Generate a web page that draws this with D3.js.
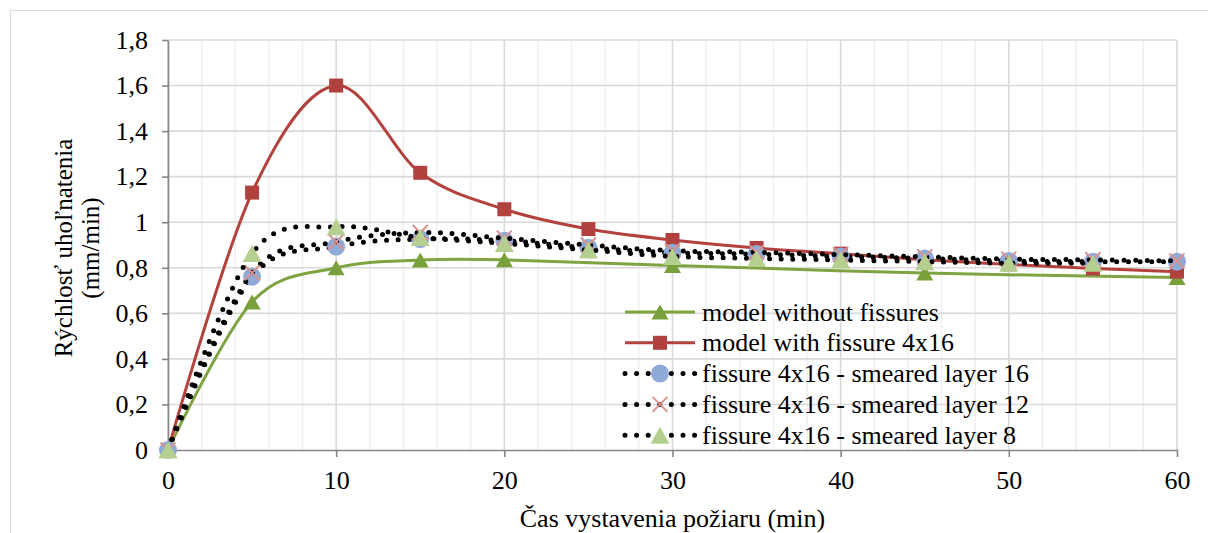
<!DOCTYPE html>
<html>
<head>
<meta charset="utf-8">
<script src="https://cdnjs.cloudflare.com/ajax/libs/d3/7.8.5/d3.min.js"></script>
<style>
  body { margin: 0; background: #fff; }
</style>
</head>
<body>
<div id="viz"></div>
<script>
'use strict';

// data
var times5 = [0, 5, 10, 15, 20, 25, 30, 35, 40, 45, 50, 55, 60];
var timesNoFissure = [0, 5, 10, 15, 20, 30, 45, 60];
var timesLayer8 = [0, 5, 10, 15, 20, 25, 30, 35, 40, 45, 50, 55];

var noFissure = [0, 0.65, 0.80, 0.834, 0.835, 0.81, 0.777, 0.757];
var fissure4x16 = [0, 1.13, 1.60, 1.217, 1.057, 0.97, 0.922, 0.887, 0.862, 0.835, 0.815, 0.797, 0.783];
var smeared16 = [0, 0.761, 0.893, 0.926, 0.919, 0.888, 0.866, 0.86, 0.849, 0.841, 0.83, 0.827, 0.827];
var smeared12 = [0, 0.778, 0.914, 0.955, 0.93, 0.90, 0.875, 0.868, 0.858, 0.848, 0.838, 0.835, 0.83];
var smeared8 = [0, 0.863, 0.98, 0.933, 0.907, 0.878, 0.85, 0.841, 0.834, 0.827, 0.82, 0.82];

var seriesNames = [
  "model without fissures",
  "model with fissure 4x16",
  "fissure 4x16 - smeared layer 16",
  "fissure 4x16 - smeared layer 12",
  "fissure 4x16 - smeared layer 8"
];

var xTicks = [0, 10, 20, 30, 40, 50, 60];
var yTicks = [0, 0.2, 0.4, 0.6, 0.8, 1, 1.2, 1.4, 1.6, 1.8];

var W = 1208, H = 533;
var fontSize = 26;
var serif = "'Liberation Serif', Tinos, 'Times New Roman', Times, 'DejaVu Serif', serif";

var svg = d3.select("#viz")
    .append("svg")
    .attr("width", W)
    .attr("height", H)
    .style("font-family", serif);

// chart border (only top and left edges are inside the frame)
svg.append("rect")
    .attr("x", 10.5).attr("y", 10.5)
    .attr("width", W + 20).attr("height", H + 20)
    .style("fill", "none")
    .style("stroke", "#d9d9d9");

var x = d3.scaleLinear().domain([0, 60]).range([168, 1177]);
var y = d3.scaleLinear().domain([0, 1.8]).range([450, 40]);

var grid = svg.append("g");
grid.selectAll("line.minor")
    .data(d3.range(0, 61, 2))
    .enter().append("line")
    .attr("x1", function(d) { return x(d); })
    .attr("x2", function(d) { return x(d); })
    .attr("y1", y(0)).attr("y2", y(1.8))
    .style("stroke", function(d) { return d % 10 === 0 ? "#d9d9d9" : "#eeeeee"; })
    .style("stroke-width", function(d) { return d % 10 === 0 ? 1.6 : 1.3; });
grid.selectAll("line.major")
    .data(yTicks.slice(1))
    .enter().append("line")
    .attr("x1", x(0)).attr("x2", x(60))
    .attr("y1", function(d) { return y(d); })
    .attr("y2", function(d) { return y(d); })
    .style("stroke", "#d9d9d9")
    .style("stroke-width", 1.6);

var locale = d3.formatLocale({decimal: ",", thousands: " ", grouping: [3], currency: ["", ""]});
var fmt = locale.format(".1~f");

var xAxis = svg.append("g")
    .attr("transform", "translate(0," + y(0) + ")")
    .call(d3.axisBottom(x).tickValues(xTicks).tickSize(7).tickPadding(14).tickFormat(fmt).tickSizeOuter(0));
var yAxis = svg.append("g")
    .attr("transform", "translate(" + x(0) + ",0)")
    .call(d3.axisLeft(y).tickValues(yTicks).tickSize(6).tickPadding(14).tickFormat(fmt).tickSizeOuter(0));

[xAxis, yAxis].forEach(function(a) {
  a.attr("font-family", serif).attr("font-size", fontSize);
  a.select(".domain").style("stroke", "#868686").style("stroke-width", 1.6);
  a.selectAll(".tick line").style("stroke", "#868686").style("stroke-width", 1.6);
  a.selectAll(".tick text").attr("fill", "#000");
});

// axis titles
svg.append("text")
    .attr("x", x(30)).attr("y", 527)
    .attr("text-anchor", "middle")
    .style("font-size", fontSize + "px")
    .text("Čas vystavenia požiaru (min)");

var yTitle = svg.append("g").attr("transform", "translate(0,248) rotate(-90)");
yTitle.append("text")
    .attr("x", 0).attr("y", 72)
    .attr("text-anchor", "middle")
    .style("font-size", "25px")
    .text("Rýchlosť uhoľnatenia");
yTitle.append("text")
    .attr("x", 0).attr("y", 99)
    .attr("text-anchor", "middle")
    .style("font-size", "25px")
    .text("(mm/min)");

// marker shapes
function triangle(w, h) {
  return "M0," + (-h / 2) + "L" + (w / 2) + "," + (h / 2) + "L" + (-w / 2) + "," + (h / 2) + "Z";
}
function square(s) {
  return "M" + (-s / 2) + "," + (-s / 2) + "h" + s + "v" + s + "h" + (-s) + "Z";
}
function circle(r) {
  return "M" + r + ",0A" + r + "," + r + " 0 1,1 " + (-r) + ",0A" + r + "," + r + " 0 1,1 " + r + ",0Z";
}
function cross(s) {
  return "M" + (-s / 2) + "," + (-s / 2) + "L" + (s / 2) + "," + (s / 2) +
         "M" + (s / 2) + "," + (-s / 2) + "L" + (-s / 2) + "," + (s / 2);
}

var dotted = "0 11.6";
var series = [
  {xs: timesNoFissure, ys: noFissure, color: "#7ea340", width: 3, dash: null,
   marker: triangle(17, 15), fill: "#78a03b", stroke: "none"},
  {xs: times5, ys: fissure4x16, color: "#b3413d", width: 3, dash: null,
   marker: square(14), fill: "#b0413e", stroke: "none"},
  {xs: times5, ys: smeared16, color: "#000", width: 5, dash: dotted,
   marker: circle(9), fill: "#8faad6", stroke: "none"},
  {xs: times5, ys: smeared12, color: "#000", width: 5, dash: dotted,
   marker: cross(15), fill: "none", stroke: "#d89391"},
  {xs: timesLayer8, ys: smeared8, color: "#000", width: 5, dash: dotted,
   marker: triangle(19, 17), fill: "#b5cf90", stroke: "none"}
];

var line = d3.line()
    .x(function(d) { return x(d[0]); })
    .y(function(d) { return y(d[1]); })
    .curve(d3.curveCardinal.tension(0));

series.forEach(function(s, i) {
  var pts = s.xs.map(function(t, j) { return [t, s.ys[j]]; });
  var g = svg.append("g");
  g.append("path")
      .attr("d", line(pts))
      .style("fill", "none")
      .style("stroke", s.color)
      .style("stroke-width", s.width)
      .style("stroke-linecap", s.dash ? "round" : "butt")
      .style("stroke-dasharray", s.dash);
  g.selectAll("path.m")
      .data(pts)
      .enter().append("path")
      .attr("transform", function(d) { return "translate(" + x(d[0]) + "," + y(d[1]) + ")"; })
      .attr("d", s.marker)
      .style("fill", s.fill)
      .style("stroke", s.stroke)
      .style("stroke-width", 2);
});

// legend
var legend = svg.append("g");
series.forEach(function(s, i) {
  var ly = 312 + i * 30.8;
  legend.append("line")
      .attr("x1", 625).attr("x2", 695)
      .attr("y1", ly).attr("y2", ly)
      .style("stroke", s.color)
      .style("stroke-width", s.width)
      .style("stroke-linecap", s.dash ? "round" : "butt")
      .style("stroke-dasharray", s.dash);
  legend.append("path")
      .attr("transform", "translate(660," + ly + ")")
      .attr("d", s.marker)
      .style("fill", s.fill)
      .style("stroke", s.stroke)
      .style("stroke-width", 2);
  legend.append("text")
      .attr("x", 702).attr("y", ly)
      .attr("dy", "0.33em")
      .style("font-size", fontSize + "px")
      .text(seriesNames[i]);
});
</script>
</body>
</html>
